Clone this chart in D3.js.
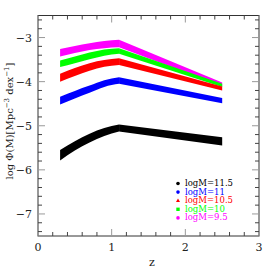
<!DOCTYPE html>
<html><head><meta charset="utf-8">
<script src="https://cdn.jsdelivr.net/npm/d3@7"></script>
<style>html,body{margin:0;padding:0;background:#fff}</style>
</head><body><svg id="c" width="274" height="274"></svg>
<script>
const zVals = [0.3, 0.5, 0.7, 0.9, 1.1, 2.5];
const labels = ["logM=11.5","logM=11","logM=10.5","logM=10","logM=9.5"];
const colors = ["#000000","#0000ff","#ff0000","#00ff00","#ff00ff"];
const markers = ["circle","circle","triangle","square","circle"];
const upper115 = [-5.55,-5.35,-5.18,-5.05,-4.97,-5.26];
const lower115 = [-5.79,-5.56,-5.38,-5.23,-5.13,-5.45];
const upper11  = [-4.34,-4.21,-4.09,-3.97,-3.90,-4.37];
const lower11  = [-4.52,-4.38,-4.25,-4.12,-4.05,-4.49];
const upper105 = [-3.82,-3.69,-3.58,-3.51,-3.47,-4.11];
const lower105 = [-4.00,-3.87,-3.75,-3.66,-3.62,-4.20];
const upper10  = [-3.52,-3.43,-3.34,-3.27,-3.24,-4.05];
const lower10  = [-3.67,-3.58,-3.49,-3.41,-3.37,-4.12];
const upper95  = [-3.26,-3.19,-3.13,-3.08,-3.05,-4.02];
const lower95  = [-3.43,-3.35,-3.28,-3.24,-3.22,-4.10];
const uppers = [upper115, upper11, upper105, upper10, upper95];
const lowers = [lower115, lower11, lower105, lower10, lower95];
const xTicks = [0,1,2,3];
const yTicks = [-3,-4,-5,-6,-7];

const svg = d3.select("#c");
const x = d3.scaleLinear().domain([0,3]).range([38,259]);
const y = d3.scaleLinear().domain([-7.5,-2.5]).range([236,15.5]);
const serif = "DejaVu Serif";

// bands, drawn magenta first; curved rise up to the peak, straight decline after it
const areaCurve = d3.area().x(d=>x(d.z)).y0(d=>y(d.lo)).y1(d=>y(d.hi)).curve(d3.curveMonotoneX);
const areaLin = d3.area().x(d=>x(d.z)).y0(d=>y(d.lo)).y1(d=>y(d.hi)).curve(d3.curveLinear);
for (let i = 4; i >= 0; i--) {
  const pts = zVals.map((z,j)=>({z, hi: uppers[i][j], lo: lowers[i][j]}));
  const grp = svg.append("g").attr("fill", colors[i]);
  grp.append("path").attr("d", areaCurve(pts.slice(0,5)));
  grp.append("path").attr("d", areaLin(pts.slice(4)));
}

// frame
const X0 = x(0), X1 = x(3), Y0 = y(-7.5), Y1 = y(-2.5);
svg.append("rect").attr("x",X0).attr("y",Y1).attr("width",X1-X0).attr("height",Y0-Y1)
  .attr("fill","none").attr("stroke","#333").attr("stroke-width",1);

// ticks
const g = svg.append("g");
const xMinor = d3.range(0, 3.0001, 0.2);
xMinor.forEach(v=>{
  const major = Math.abs(v-Math.round(v))<1e-6;
  const L = major?7:4, col = major?"#999":"#444";
  g.append("line").attr("x1",x(v)).attr("x2",x(v)).attr("y1",Y0).attr("y2",Y0-L).attr("stroke",col);
  g.append("line").attr("x1",x(v)).attr("x2",x(v)).attr("y1",Y1).attr("y2",Y1+L).attr("stroke",col);
});
const yMinor = d3.range(-7.4, -2.5001, 0.2);
yMinor.forEach(v=>{
  const major = Math.abs(v-Math.round(v))<1e-6;
  const L = major?7:4, col = major?"#999":"#444";
  g.append("line").attr("y1",y(v)).attr("y2",y(v)).attr("x1",X0).attr("x2",X0+L).attr("stroke",col);
  g.append("line").attr("y1",y(v)).attr("y2",y(v)).attr("x1",X1).attr("x2",X1-L).attr("stroke",col);
});

// tick labels
xTicks.forEach(v=>{
  svg.append("text").attr("x",x(v)).attr("y",251).attr("text-anchor","middle")
    .attr("font-family",serif).attr("font-size",11).attr("fill","#222").text(v);
});
yTicks.forEach(v=>{
  svg.append("text").attr("x",32).attr("y",y(v)+4).attr("text-anchor","end")
    .attr("font-family",serif).attr("font-size",11).attr("fill","#222").text("\u2212"+Math.abs(v));
});

// axis titles
svg.append("text").attr("x",152).attr("y",266).attr("text-anchor","middle")
  .attr("font-family",serif).attr("font-size",11).attr("fill","#222").text("z");
const yl = svg.append("text").attr("transform","translate(13,121) rotate(-90)").attr("text-anchor","middle")
  .attr("font-family",serif).attr("font-size",10).attr("fill","#222");
yl.append("tspan").text("log \u03A6(M)[Mpc");
yl.append("tspan").attr("dy",-4).attr("font-size",7).text("\u22123");
yl.append("tspan").attr("dy",4).text(" dex");
yl.append("tspan").attr("dy",-4).attr("font-size",7).text("\u22121");
yl.append("tspan").attr("dy",4).text("]");

// legend
labels.forEach((lab,i)=>{
  const ly = 186 + i*8.6;
  const mx = 178;
  if (markers[i]==="circle") svg.append("circle").attr("cx",mx).attr("cy",ly-2.5).attr("r",1.8).attr("fill",colors[i]);
  else if (markers[i]==="square") svg.append("rect").attr("x",mx-1.7).attr("y",ly-4.2).attr("width",3.4).attr("height",3.4).attr("fill",colors[i]);
  else svg.append("path").attr("d",`M${mx},${ly-4.6}L${mx+2},${ly-1.2}L${mx-2},${ly-1.2}Z`).attr("fill",colors[i]);
  svg.append("text").attr("x",185).attr("y",ly).attr("font-family",serif).attr("font-size",8.5)
    .attr("fill",colors[i]).text(lab);
});
</script></body></html>
